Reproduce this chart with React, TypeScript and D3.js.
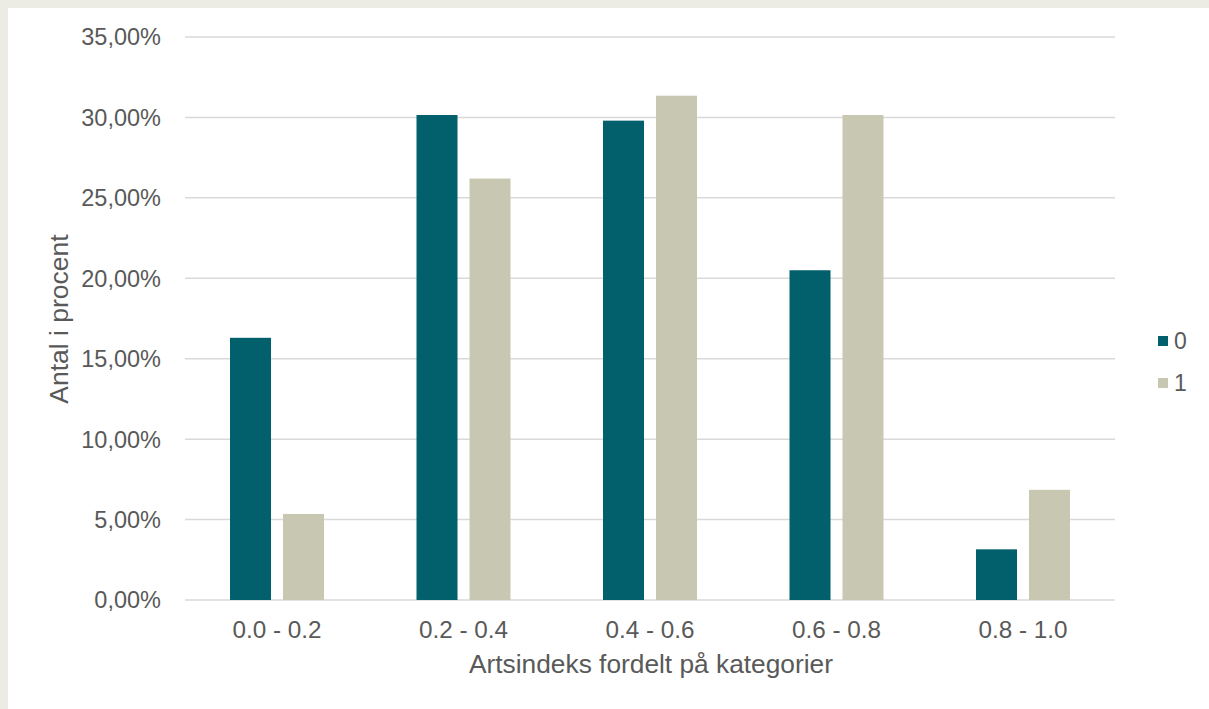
import React from "react";
import * as d3 from "d3";

// Share of observations per index category, for groups 0 and 1
const categories = ["0.0 - 0.2", "0.2 - 0.4", "0.4 - 0.6", "0.6 - 0.8", "0.8 - 1.0"];
const seriesNames = ["0", "1"];
const series0 = [16.3, 30.15, 29.8, 20.5, 3.15];
const series1 = [5.35, 26.2, 31.35, 30.15, 6.85];
const yTicks = [0, 5, 10, 15, 20, 25, 30, 35];

const colors = ["#02606C", "#C8C8B2"];
const textColor = "#595959";
const font = "'Liberation Sans', Arial, sans-serif";

export default function App() {
  const W = 1209;
  const H = 709;
  const plot = { left: 185, right: 1117.5, top: 37, bottom: 600 };

  const x = d3.scaleBand<string>().domain(categories).range([plot.left, plot.right]);
  const y = d3.scaleLinear().domain([0, 35]).range([plot.bottom, plot.top]);
  // pair of bars sits in the middle of each category band
  const inner = d3
    .scaleBand<string>()
    .domain(seriesNames)
    .range([45, 139])
    .paddingInner(0.226);

  const values = [series0, series1];
  const fmt = (v: number) => v.toFixed(2).replace(".", ",") + "%";

  return (
    <svg
      width={W}
      height={H}
      style={{ position: "absolute", left: 0, top: 0, display: "block" }}
      fontFamily={font}
    >
      <rect x={0} y={0} width={W} height={H} fill="#ECEBE4" />
      <rect x={8} y={8} width={W - 8} height={H - 8} fill="#FFFFFF" />

      {/* gridlines and y tick labels */}
      {yTicks.map((t) => (
        <g key={t}>
          <line
            x1={plot.left}
            x2={1115}
            y1={y(t)}
            y2={y(t)}
            stroke="#D9D9D9"
            strokeWidth={1.5}
          />
          <text
            x={161}
            y={y(t)}
            dy="0.36em"
            textAnchor="end"
            fontSize={23.5}
            fill={textColor}
          >
            {fmt(t)}
          </text>
        </g>
      ))}

      {/* bars */}
      {categories.map((c, i) => (
        <g key={c} transform={`translate(${x(c)},0)`}>
          {seriesNames.map((s, j) => (
            <rect
              key={s}
              x={inner(s)}
              y={y(values[j][i])}
              width={inner.bandwidth()}
              height={y(0) - y(values[j][i])}
              fill={colors[j]}
            />
          ))}
          <text
            x={92}
            y={638}
            textAnchor="middle"
            fontSize={24.3}
            fill={textColor}
          >
            {c}
          </text>
        </g>
      ))}

      {/* axis titles */}
      <text
        x={651}
        y={673}
        textAnchor="middle"
        fontSize={26.3}
        fill={textColor}
      >
        Artsindeks fordelt på kategorier
      </text>
      <text
        transform="translate(68,319) rotate(-90)"
        textAnchor="middle"
        fontSize={26.5}
        fill={textColor}
      >
        Antal i procent
      </text>

      {/* legend */}
      {seriesNames.map((s, j) => (
        <g key={s} transform={`translate(1158,${341 + j * 42})`}>
          <rect x={0} y={-5} width={10} height={10} fill={colors[j]} />
          <text x={16} y={0} dy="0.36em" fontSize={23} fill={textColor}>
            {s}
          </text>
        </g>
      ))}
    </svg>
  );
}
